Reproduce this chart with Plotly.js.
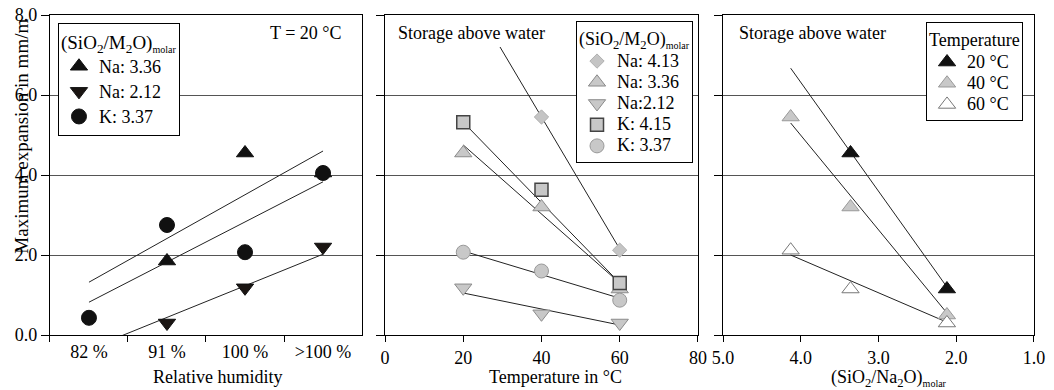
<!DOCTYPE html>
<html><head><meta charset="utf-8">
<script src="https://cdn.plot.ly/plotly-3.0.1.min.js"></script>
<style>html,body{margin:0;padding:0;background:#fff;}#chart{width:1054px;height:390px;}</style>
</head><body><div id="chart"></div>
<script>
// ---- Panel 1: relative humidity (T = 20 °C) ----
const humidity = ['82 %', '91 %', '100 %', '>100 %'];
const rhNa336 = [null, 1.85, 4.55, 4.05];
const rhNa212 = [null, 0.30, 1.18, 2.20];
const rhK337 = [0.43, 2.75, 2.07, 4.05];
const rhFitX = ['82 %', '>100 %'];
const rhFitNa336 = [1.32, 4.60];
const rhFitK337 = [0.82, 3.83];
const rhFitNa212 = [-0.35, 2.02];

// ---- Panel 2: temperature (storage above water) ----
const temps = [20, 40, 60];
const tNa413 = [null, 5.45, 2.12];
const tNa336 = [4.55, 3.20, 1.15];
const tNa212 = [1.18, 0.53, 0.30];
const tK415 = [5.32, 3.63, 1.30];
const tK337 = [2.07, 1.60, 0.87];
const tFitNa413X = [29.4, 60];
const tFitNa413 = [7.20, 2.15];
const tFitX = [20, 60];
const tFitNa336 = [4.75, 1.30];
const tFitK415 = [5.32, 1.30];
const tFitNa212 = [1.05, 0.25];
const tFitK337 = [2.10, 0.92];

// ---- Panel 3: molar ratio (storage above water) ----
const ratios = [4.13, 3.36, 2.12];
const r20 = [null, 4.55, 1.15];
const r40 = [5.45, 3.20, 0.50];
const r60 = [2.12, 1.15, 0.30];
const rFitX = [4.13, 2.12];
const rFit20 = [6.67, 1.20];
const rFit40 = [5.30, 0.55];
const rFit60 = [2.00, 0.32];

const FONT = 'Liberation Serif, Times New Roman, serif';
const fitLine = {color: '#222', width: 1};
const GRAY = '#c8c8c8';

function big(t) { return '<span style="font-size:18px">' + t + '</span>'; }
function fit(x, y, xa, ya) {
  return {x: x, y: y, xaxis: xa, yaxis: ya, mode: 'lines', line: fitLine, showlegend: false, hoverinfo: 'skip'};
}
function pts(x, y, xa, ya, name, marker, legend) {
  return {x: x, y: y, xaxis: xa, yaxis: ya, mode: 'markers', name: name, marker: marker, legend: legend, cliponaxis: false};
}

const traces = [
  // panel 1 lines
  fit(rhFitX, rhFitNa336, 'x', 'y'),
  fit(rhFitX, rhFitK337, 'x', 'y'),
  fit(rhFitX, rhFitNa212, 'x', 'y'),
  // panel 1 markers
  pts(humidity, rhNa336, 'x', 'y', big('Na: 3.36'), {symbol: 'triangle-up', size: 15, color: '#111', line: {color: '#111', width: 1}}, 'legend'),
  pts(humidity, rhNa212, 'x', 'y', big('Na: 2.12'), {symbol: 'triangle-down', size: 15, color: '#1a1512', line: {color: '#111', width: 1}}, 'legend'),
  pts(humidity, rhK337, 'x', 'y', big('K: 3.37'), {symbol: 'circle', size: 15, color: '#111', line: {color: '#111', width: 1}}, 'legend'),

  // panel 2 lines
  fit(tFitNa413X, tFitNa413, 'x2', 'y2'),
  fit(tFitX, tFitNa336, 'x2', 'y2'),
  fit(tFitX, tFitK415, 'x2', 'y2'),
  fit(tFitX, tFitNa212, 'x2', 'y2'),
  fit(tFitX, tFitK337, 'x2', 'y2'),
  // panel 2 markers
  pts(temps, tNa413, 'x2', 'y2', big('Na: 4.13'), {symbol: 'diamond', size: 11, color: '#c4c4c4', line: {color: '#b0b0b0', width: 1}}, 'legend2'),
  pts(temps, tNa336, 'x2', 'y2', big('Na: 3.36'), {symbol: 'triangle-up', size: 15, color: GRAY, line: {color: '#8a8a8a', width: 1}}, 'legend2'),
  pts(temps, tNa212, 'x2', 'y2', big('Na:2.12'), {symbol: 'triangle-down', size: 15, color: GRAY, line: {color: '#8a8a8a', width: 1}}, 'legend2'),
  pts(temps, tK415, 'x2', 'y2', big('K: 4.15'), {symbol: 'square', size: 13, color: GRAY, line: {color: '#444', width: 1.5}}, 'legend2'),
  pts(temps, tK337, 'x2', 'y2', big('K: 3.37'), {symbol: 'circle', size: 14, color: GRAY, line: {color: '#999', width: 1}}, 'legend2'),

  // panel 3 lines
  fit(rFitX, rFit20, 'x3', 'y3'),
  fit(rFitX, rFit40, 'x3', 'y3'),
  fit(rFitX, rFit60, 'x3', 'y3'),
  // panel 3 markers
  pts(ratios, r20, 'x3', 'y3', big('20 °C'), {symbol: 'triangle-up', size: 15, color: '#111', line: {color: '#111', width: 1}}, 'legend3'),
  pts(ratios, r40, 'x3', 'y3', big('40 °C'), {symbol: 'triangle-up', size: 15, color: GRAY, line: {color: '#999', width: 1}}, 'legend3'),
  pts(ratios, r60, 'x3', 'y3', big('60 °C'), {symbol: 'triangle-up', size: 15, color: '#fff', line: {color: '#777', width: 1}}, 'legend3')
];

const yBase = {
  range: [0, 8], tick0: 0, dtick: 2, tickformat: '.1f',
  showgrid: true, gridcolor: '#555', gridwidth: 1, zeroline: false,
  showline: true, linecolor: '#000', linewidth: 1, mirror: true,
  ticks: 'outside', ticklen: 8, tickcolor: '#000', fixedrange: true
};
const xBase = {
  showgrid: false, zeroline: false, showline: true, linecolor: '#000', linewidth: 1, mirror: true,
  ticks: 'outside', ticklen: 6, tickcolor: '#000', fixedrange: true
};

const molarTitle = '(SiO<sub>2</sub>/M<sub>2</sub>O)<sub><span style="font-size:10px">molar</span></sub>';
const legBase = {xanchor: 'left', yanchor: 'top', bgcolor: '#fff', bordercolor: '#000', borderwidth: 1, xref: 'paper', yref: 'paper'};

const layout = {
  width: 1054, height: 390,
  margin: {l: 0, r: 0, t: 15, b: 55},
  paper_bgcolor: '#fff', plot_bgcolor: '#fff',
  font: {family: FONT, size: 18, color: '#000'},
  xaxis: Object.assign({}, xBase, {domain: [0.0474, 0.3435], anchor: 'y', type: 'category', categoryarray: humidity, categoryorder: 'array', range: [-0.5, 3.5], tickson: 'boundaries'}),
  yaxis: Object.assign({}, yBase, {anchor: 'x', showticklabels: true}),
  xaxis2: Object.assign({}, xBase, {domain: [0.3653, 0.6622], anchor: 'y2', range: [0, 80], tick0: 0, dtick: 20}),
  yaxis2: Object.assign({}, yBase, {anchor: 'x2', showticklabels: false}),
  xaxis3: Object.assign({}, xBase, {domain: [0.6860, 0.9810], anchor: 'y3', range: [5, 1], tick0: 1, dtick: 1, tickformat: '.1f'}),
  yaxis3: Object.assign({}, yBase, {anchor: 'x3', showticklabels: false}),
  legend: Object.assign({}, legBase, {x: 0.055, y: 0.975, font: {size: 17}, title: {text: molarTitle, font: {size: 19}}}),
  legend2: Object.assign({}, legBase, {x: 0.5465, y: 0.981, font: {size: 14}, title: {text: molarTitle, font: {size: 18}}}),
  legend3: Object.assign({}, legBase, {x: 0.8786, y: 0.978, font: {size: 14}, title: {text: 'Temperature', font: {size: 18}}}),
  annotations: [
    {text: 'Maximum expansion in mm/m', textangle: -90, xref: 'paper', yref: 'paper', x: 0.0209, y: 0.62, xanchor: 'center', yanchor: 'middle', showarrow: false, font: {size: 19}},
    {text: 'Relative humidity', xref: 'paper', yref: 'paper', x: 0.2059, y: -0.131, xanchor: 'center', yanchor: 'middle', showarrow: false},
    {text: 'Temperature in °C', xref: 'paper', yref: 'paper', x: 0.5266, y: -0.131, xanchor: 'center', yanchor: 'middle', showarrow: false},
    {text: '(SiO<sub>2</sub>/Na<sub>2</sub>O)<sub><span style="font-size:10px">molar</span></sub>', xref: 'paper', yref: 'paper', x: 0.8435, y: -0.135, xanchor: 'center', yanchor: 'middle', showarrow: false},
    {text: 'T = 20 °C', xref: 'paper', yref: 'paper', x: 0.2903, y: 0.944, xanchor: 'center', yanchor: 'middle', showarrow: false},
    {text: 'Storage above water', xref: 'paper', yref: 'paper', x: 0.4478, y: 0.944, xanchor: 'center', yanchor: 'middle', showarrow: false},
    {text: 'Storage above water', xref: 'paper', yref: 'paper', x: 0.7713, y: 0.944, xanchor: 'center', yanchor: 'middle', showarrow: false}
  ]
};

Plotly.newPlot('chart', traces, layout, {staticPlot: true, displayModeBar: false});
</script>
</body></html>
